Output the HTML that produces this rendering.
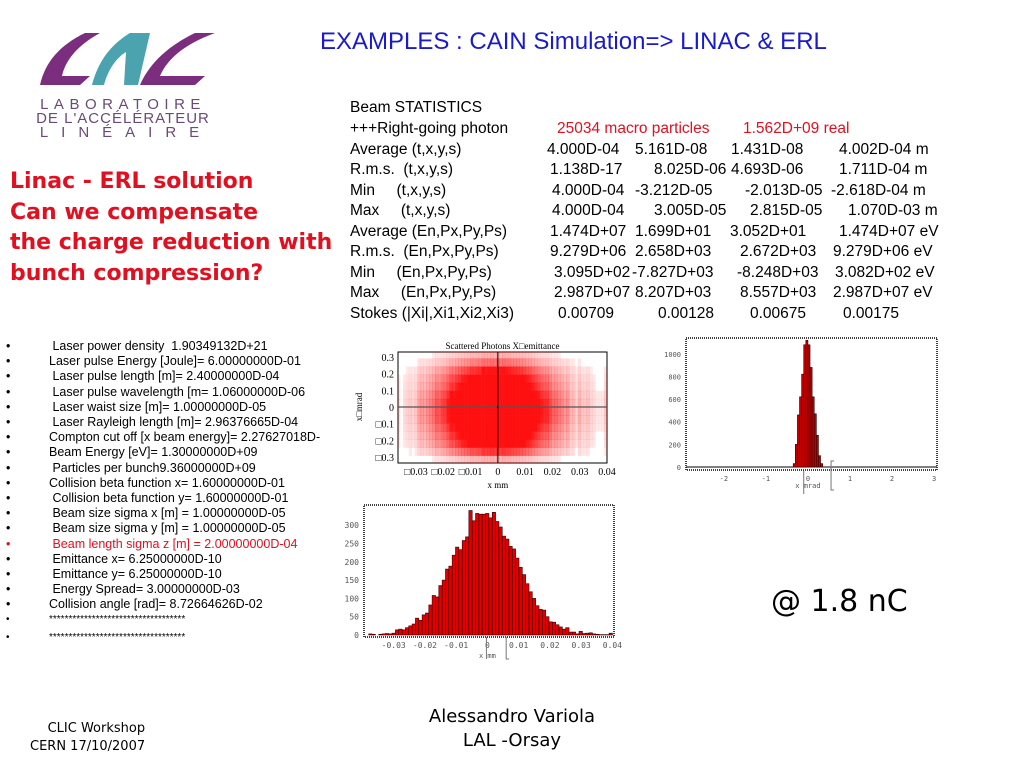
<!DOCTYPE html>
<html><head><meta charset="utf-8">
<style>
body{margin:0;width:1024px;height:768px;background:#fff;position:relative;overflow:hidden;font-family:"Liberation Sans",sans-serif;}
.a{position:absolute;white-space:pre;}
.st{font-size:15.5px;color:#000;line-height:18px;}
.li{font-size:12.5px;line-height:14px;}
.comic{font-family:"DejaVu Sans",sans-serif;}
</style></head><body>

<svg class="a" style="left:0;top:0" width="240" height="145">
  <path d="M100,33 L85,33 C60,45 45,62 40,85 L80,85 L90,76 L62,76 C66,58 80,44 100,33Z" fill="#7b2e7e"/>
  <path d="M150,33 L130,33 C110,45 98,62 92,85 L104,85 C108,70 116,58 126,52 L124,85 L138,85 Z" fill="#4aa3ae"/>
  <path d="M215,33 L195,33 C170,45 150,62 140,85 L195,85 L205,76 L160,76 C168,58 185,44 215,33Z" fill="#7b2e7e"/>
  <text x="123" y="109" text-anchor="middle" font-family="Liberation Sans" font-size="15" fill="#6a4a78" letter-spacing="5.5">LABORATOIRE</text>
  <text x="123" y="123" text-anchor="middle" font-family="Liberation Sans" font-size="15" fill="#6a4a78" letter-spacing="1">DE L'ACCÉLÉRATEUR</text>
  <text x="126" y="137" text-anchor="middle" font-family="Liberation Sans" font-size="15" fill="#6a4a78" letter-spacing="13">LINÉAIRE</text>
</svg>

<div class="a" style="left:320px;top:28px;font-size:24px;color:#1a1acc;">EXAMPLES : CAIN Simulation=&gt; LINAC &amp; ERL</div>

<div class="a comic" style="left:10px;top:167px;font-size:22px;font-weight:bold;color:#e01020;line-height:30.5px;">Linac - ERL solution
Can we compensate
the charge reduction with
bunch compression?</div>

<div>
<div class="a st" style="left:350px;top:99px">Beam STATISTICS</div>
<div class="a st" style="left:350px;top:120px">+++Right-going photon</div>
<div class="a st" style="left:557px;top:120px;color:#e01020">25034 macro particles</div>
<div class="a st" style="left:743px;top:120px;color:#e01020">1.562D+09 real</div>
<div id="rows"></div>
</div>

<ul id="params" style="position:absolute;left:0;top:339px;margin:0;padding:0;list-style:none"></ul>

<svg id="scatter" class="a" style="left:340px;top:335px" width="280" height="160"></svg>
<svg id="histxp" class="a" style="left:650px;top:335px" width="300" height="160"></svg>
<svg id="histx" class="a" style="left:330px;top:500px" width="300" height="165"></svg>

<div class="a comic" style="left:771px;top:584px;font-size:30px;">@ 1.8 nC</div>
<div class="a comic" style="left:30px;top:720px;font-size:13px;text-align:right;line-height:18px;"> CLIC Workshop
CERN 17/10/2007</div>
<div class="a comic" style="left:412px;top:705px;width:200px;text-align:center;font-size:18px;line-height:24px;">Alessandro Variola
LAL -Orsay</div>

<script>
const statLabels=["Average (t,x,y,s)","R.m.s.  (t,x,y,s)","Min     (t,x,y,s)","Max     (t,x,y,s)","Average (En,Px,Py,Ps)","R.m.s.  (En,Px,Py,Ps)","Min     (En,Px,Py,Ps)","Max     (En,Px,Py,Ps)","Stokes (|Xi|,Xi1,Xi2,Xi3)"];
const statVals=[["4.000D-04","5.161D-08","1.431D-08","4.002D-04 m"],["1.138D-17","8.025D-06","4.693D-06","1.711D-04 m"],["4.000D-04","-3.212D-05","-2.013D-05","-2.618D-04 m"],["4.000D-04","3.005D-05","2.815D-05","1.070D-03 m"],["1.474D+07","1.699D+01","3.052D+01","1.474D+07 eV"],["9.279D+06","2.658D+03","2.672D+03","9.279D+06 eV"],["3.095D+02","-7.827D+03","-8.248D+03","3.082D+02 eV"],["2.987D+07","8.207D+03","8.557D+03","2.987D+07 eV"],["0.00709","0.00128","0.00675","0.00175"]];
const colX=[[547,635,731,839],[550,654,731,839],[552,635,745,831],[552,654,750,848],[550,635,730,839],[550,635,740,833],[554,632,737,835],[554,635,740,833],[558,658,750,843]];
const rows=document.getElementById('rows');
statLabels.forEach((l,i)=>{
  const top=140.5+i*20.5;
  const d=document.createElement('div');d.className='a st';d.style.left='350px';d.style.top=top+'px';d.textContent=l;
  
  
  rows.appendChild(d);
  statVals[i].forEach((v,j)=>{
    const s=document.createElement('div');s.className='a st';s.style.left=colX[i][j]+'px';s.style.top=top+'px';s.textContent=v;
    
    
    rows.appendChild(s);
  });
});
const params=[" Laser power density  1.90349132D+21","Laser pulse Energy [Joule]= 6.00000000D-01"," Laser pulse length [m]= 2.40000000D-04"," Laser pulse wavelength [m= 1.06000000D-06"," Laser waist size [m]= 1.00000000D-05"," Laser Rayleigh length [m]= 2.96376665D-04","Compton cut off [x beam energy]= 2.27627018D-","Beam Energy [eV]= 1.30000000D+09"," Particles per bunch9.36000000D+09","Collision beta function x= 1.60000000D-01"," Collision beta function y= 1.60000000D-01"," Beam size sigma x [m] = 1.00000000D-05"," Beam size sigma y [m] = 1.00000000D-05"," Beam length sigma z [m] = 2.00000000D-04"," Emittance x= 6.25000000D-10"," Emittance y= 6.25000000D-10"," Energy Spread= 3.00000000D-03","Collision angle [rad]= 8.72664626D-02","***********************************","***********************************"];
const pl=document.getElementById('params');
params.forEach((p,i)=>{
  const li=document.createElement('li');li.className='a li';li.style.top=(i*15.2+(i==19?3:0))+'px';li.style.left='6px';
  li.innerHTML='<span style="display:inline-block;width:43px">•</span>';
  li.appendChild(document.createTextNode(p));
  if(i==13) li.style.color='#e01020';
  if(p.startsWith('*')) li.style.fontSize='10px';
  
  
  pl.appendChild(li);
});

const NS='http://www.w3.org/2000/svg';
function el(svg,tag,attrs,txt){const e=document.createElementNS(NS,tag);for(const k in attrs)e.setAttribute(k,attrs[k]);if(txt!==undefined)e.textContent=txt;svg.appendChild(e);return e;}

const xHistStart=-0.038, xHistEnd=0.040;
const xHistCounts=[3,2,0,2,3,4,3,5,14,16,14,20,25,30,46,40,55,60,82,108,104,135,150,180,188,218,240,233,258,268,340,312,332,330,330,332,320,335,310,295,270,262,242,235,210,185,165,140,118,100,80,70,68,50,36,35,28,22,16,20,8,8,3,10,4,5,6,3,2,1,1,1,5];
const xHistTicks=[-0.03,-0.02,-0.01,0,0.01,0.02,0.03,0.04];
const xHistTickLabels=["-0.03","-0.02","-0.01","0","0.01","0.02","0.03","0.04"];
const xHistYTicks=[0,50,100,150,200,250,300];
const xpStart=-0.35, xpEnd=0.35;
const xpCounts=[30,200,460,620,820,1080,1120,1080,880,620,470,280,100,30];
const xpTicks=[-2,-1,0,1,2,3];
const xpYTicks=[0,200,400,600,800,1000];
const scXTicks=[-0.03,-0.02,-0.01,0,0.01,0.02,0.03,0.04];
const scXTickLabels=["\u25A10.03","\u25A10.02","\u25A10.01","0","0.01","0.02","0.03","0.04"];
const scYTicks=[0.3,0.2,0.1,0,-0.1,-0.2,-0.3];
const scYTickLabels=["0.3","0.2","0.1","0","\u25A10.1","\u25A10.2","\u25A10.3"];

(function(){
  const s=document.getElementById('histx');
  const L=34,R=284,T=5,B=137;
  const xmin=-0.0395,xmax=0.0405,ymax=355;
  const X=v=>L+(v-xmin)/(xmax-xmin)*(R-L), Y=v=>B-2-v/ymax*(B-2-T);
  el(s,'rect',{x:L,y:T,width:R-L,height:B-T,fill:'#fff',stroke:'#000','stroke-width':1.5,'stroke-dasharray':'1 1'});
  const bw=(xHistEnd-xHistStart)/xHistCounts.length;
  xHistCounts.forEach((c,i)=>{
    const x0=X(xHistStart+i*bw),x1=X(xHistStart+(i+1)*bw);
    const r=el(s,'rect',{x:x0,y:Y(c),width:x1-x0,height:Y(0)-Y(c),fill:'#e00000',stroke:'#300','stroke-width':0.6});
    
    
  });
  xHistYTicks.forEach(v=>el(s,'text',{x:L-5,y:Y(v)+3,'text-anchor':'end','font-size':8,'font-family':'DejaVu Sans Mono',fill:'#555'},v));
  xHistTicks.forEach((v,i)=>el(s,'text',{x:X(v),y:B+11,'text-anchor':'middle','font-size':8,'font-family':'DejaVu Sans Mono',fill:'#555'},xHistTickLabels[i]));
  el(s,'text',{x:X(0),y:B+21,'text-anchor':'middle','font-size':7,'font-family':'DejaVu Sans Mono',fill:'#555'},'x  mm');
  el(s,'path',{d:`M${X(0)-1},${B}V${B+22}M${X(0.006)},${B}V${B+22}h3`,stroke:'#777',fill:'none'});
})();

(function(){
  const s=document.getElementById('histxp');
  const L=36,R=287,T=3,B=135;
  const xmin=-2.9,xmax=3.07,ymax=1140;
  const X=v=>L+(v-xmin)/(xmax-xmin)*(R-L), Y=v=>B-3-v/ymax*(B-3-T);
  el(s,'rect',{x:L,y:T,width:R-L,height:B-T,fill:'#fff',stroke:'#000','stroke-width':1.5,'stroke-dasharray':'1 1'});
  el(s,'line',{x1:L,x2:R,y1:B-3,y2:B-3,stroke:'#000'});
  const bw=(xpEnd-xpStart)/xpCounts.length;
  xpCounts.forEach((c,i)=>{
    const x0=X(xpStart+i*bw),x1=X(xpStart+(i+1)*bw);
    const r=el(s,'rect',{x:x0,y:Y(c),width:x1-x0,height:Y(0)-Y(c),fill:'#c00000',stroke:'#300','stroke-width':0.6});
    
    
  });
  xpYTicks.forEach(v=>el(s,'text',{x:L-5,y:Y(v)+3,'text-anchor':'end','font-size':7,'font-family':'DejaVu Sans Mono',fill:'#555'},v));
  xpTicks.forEach(v=>el(s,'text',{x:X(v),y:B+11,'text-anchor':'middle','font-size':7,'font-family':'DejaVu Sans Mono',fill:'#555'},v));
  el(s,'text',{x:X(0),y:B+18,'text-anchor':'middle','font-size':7,'font-family':'DejaVu Sans Mono',fill:'#555'},'x   mrad');
  el(s,'path',{d:`M${X(-0.1)},${B+1}V${B+24}M${X(0.55)+3},${B-9}h-3V${B+20}h3`,stroke:'#777',fill:'none'});
})();

(function(){
  const s=document.getElementById('scatter');
  const L=58,R=267,T=17,B=128;
  const xmin=-0.0366,xmax=0.04,ymin=-0.336,ymax=0.33;
  const X=v=>L+(v-xmin)/(xmax-xmin)*(R-L), Y=v=>B-(v-ymin)/(ymax-ymin)*(B-T);
  el(s,'rect',{x:L,y:T,width:R-L,height:B-T,fill:'#fff',stroke:'#000','stroke-width':1});
  const mx=Math.max(...xHistCounts), my=Math.max(...xpCounts);
  const bwx=(xHistEnd-xHistStart)/xHistCounts.length;
  const cp=el(s,'clipPath',{id:'scclip'});el(cp,'rect',{x:L,y:T,width:R-L,height:B-T});
  const g=el(s,'g',{'clip-path':'url(#scclip)'});
  const yLo=-0.34,yHi=0.34,bwy=(yHi-yLo)/xpCounts.length;
  xHistCounts.forEach((cx,i)=>{
    xpCounts.forEach((cy,j)=>{
      const d=(cx/mx)*(cy/my); if(d<0.002) return;
      const x0=X(xHistStart+i*bwx),x1=X(xHistStart+(i+1)*bwx);
      const y0=Y(yLo+(j+1)*bwy),y1=Y(yLo+j*bwy);
      const r=el(g,'rect',{x:x0,y:y0,width:x1-x0+0.3,height:y1-y0+0.3,fill:'#ff1010','fill-opacity':Math.min(1,Math.pow(d*4,0.5))});
      
      
    });
  });
  el(s,'line',{x1:L,x2:R,y1:Y(0),y2:Y(0),stroke:'#555','stroke-width':1.2});
  el(s,'line',{x1:X(0),x2:X(0),y1:T,y2:B,stroke:'#000','stroke-width':1});
  scYTicks.forEach((v,i)=>el(s,'text',{x:L-4,y:Y(v)+4,'text-anchor':'end','font-size':10,'font-family':'Liberation Serif'},scYTickLabels[i]));
  scXTicks.forEach((v,i)=>el(s,'text',{x:X(v),y:B+12,'text-anchor':'middle','font-size':10,'font-family':'Liberation Serif'},scXTickLabels[i]));
  el(s,'text',{x:X(0),y:B+25,'text-anchor':'middle','font-size':9,'font-family':'Liberation Serif'},'x  mm');
  el(s,'text',{x:(L+R)/2,y:T-3,'text-anchor':'middle','font-size':9,'font-family':'Liberation Serif'},'Scattered Photons X\u25A1emittance');
  el(s,'text',{x:0,y:0,'text-anchor':'middle','font-size':9,'font-family':'Liberation Serif',transform:`translate(${L-36},${Y(0)}) rotate(-90)`},'x\u25A1mrad');
})();
</script>
</body></html>
